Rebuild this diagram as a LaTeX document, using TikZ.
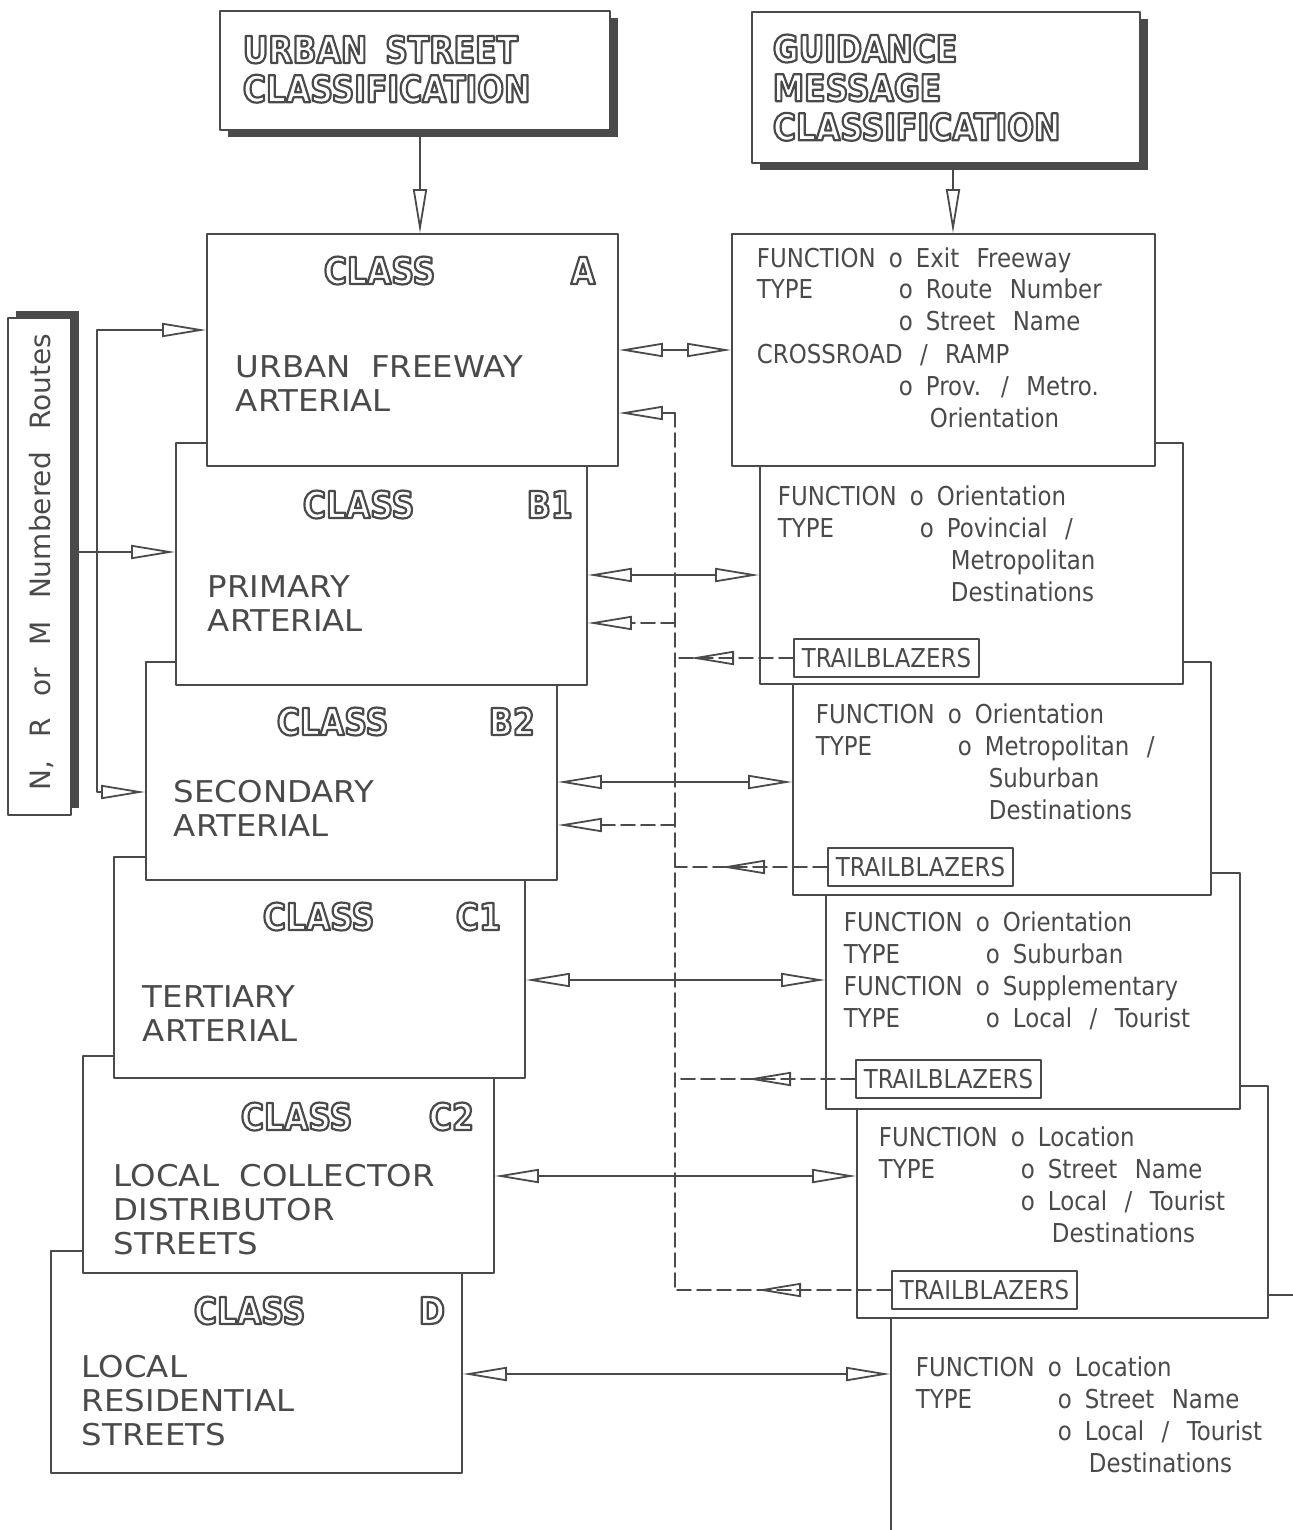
\documentclass[tikz,border=0pt]{standalone}
\usepackage{fontspec}
\usetikzlibrary{arrows.meta,fit,shadows,decorations.markings}
\setmainfont{DejaVu Sans}
\newfontfamily\blockfont{DejaVu Sans}[FakeStretch=0.85]
\newfontfamily\bigfont{DejaVu Sans}[FakeStretch=1.08,WordSpace=2]
\newfontfamily\smallfont{DejaVu Sans}[FakeStretch=0.88,WordSpace=2.4]
\newfontfamily\sidefont{DejaVu Sans}[WordSpace=2.5]
\definecolor{ink}{HTML}{4A4A4A}
\newcommand\blk[1]{\textcolor{white}{\special{pdf:literal direct 2 Tr 1.1 w 0.29 0.29 0.29 RG}#1\special{pdf:literal direct 0 Tr 0.9 w}}}
\newcommand\lines[1]{\begin{tabular}[t]{@{}l@{}}#1\end{tabular}}
\newcommand\fnline[1]{\makebox[66pt][l]{FUNCTION}o\hspace{6.5pt}#1}
\newcommand\tyline[1]{\makebox[71pt][l]{TYPE}o\hspace{6.5pt}#1}
\newcommand\oline[1]{\hspace*{71pt}o\hspace{6.5pt}#1}
\newcommand\goon[1]{\hspace*{86.5pt}#1}
\begin{document}
\begin{tikzpicture}[x=0.5pt,y=-0.5pt,line join=round,line cap=round,ink,line width=0.9pt,
>={Triangle[open,length=22pt,width=7pt]},
box/.style={draw=ink,fill=white,inner sep=0pt},
boxshadow/.style={drop shadow={shadow xshift=4pt,shadow yshift=#1,fill=ink,opacity=1}},
cls/.style={anchor=base west,inner sep=0pt,font=\blockfont\bfseries\fontsize{18.5}{19.5}\selectfont},
big/.style={anchor=base west,inner sep=0pt,text=ink,font=\bigfont\fontsize{15}{17}\selectfont},
small/.style={anchor=base west,inner sep=0pt,text=ink,font=\smallfont\fontsize{13}{16}\selectfont},
tb/.style={draw=ink,fill=white,anchor=west,inner xsep=3pt,inner ysep=0pt,minimum height=19pt,minimum width=92.5pt,text=ink,font=\smallfont\fontsize{13}{16}\selectfont},
dline/.style={dash pattern=on 7pt off 3pt},
midtip/.style={postaction=decorate,decoration={markings,mark=at position #1 with {\arrow{>}}}}]
\useasboundingbox (0,0) rectangle (1293,1530);

\node[box,boxshadow=-3.5pt,fit={(220,11) (610,130)}] (US) {};
\node[cls] (USt) at (242,63) {\lines{\blk{URBAN\hspace{9pt}STREET}\\\blk{CLASSIFICATION}}};
\node[box,boxshadow=-3.5pt,fit={(752,12) (1140,163)}] (GM) {};
\node[cls] (GMt) at (772,62) {\lines{\blk{GUIDANCE}\\\blk{MESSAGE}\\\blk{CLASSIFICATION}}};
\node[box,boxshadow=3.5pt,fit={(8,318) (71,815)}] (NR) {};
\node[rotate=90,text=ink,font=\sidefont\fontsize{14}{16}\selectfont] (NRt) at (41,562) {N, R or M Numbered Routes};

\foreach \nm/\xl/\yt/\yb/\cx/\cy/\lx/\tx/\ty/\txt in {
D/51/1251/1473/193/1324/418/81/1377/{LOCAL\\RESIDENTIAL\\STREETS},
C2/83/1056/1273/240/1130/428/113/1186/{LOCAL COLLECTOR\\DISTRIBUTOR\\STREETS},
C1/114/857/1078/262/930/455/142/1007/{TERTIARY\\ARTERIAL},
B2/146/662/880/276/735/488/173/802/{SECONDARY\\ARTERIAL},
B1/176/443/685/302/518/526/207/597/{PRIMARY\\ARTERIAL},
A/207/234/466/323/284/570/235/377/{URBAN FREEWAY\\ARTERIAL}}{
\node[box,fit={(\xl,\yt) (\xl+411,\yb)}] (L\nm) {};
\node[cls] (c\nm) at (\cx,\cy) {\blk{CLASS}};
\node[cls] (l\nm) at (\lx,\cy) {\blk{\nm}};
\node[big] (t\nm) at (\tx,\ty) {\lines{\txt}};
}

\foreach \i/\xl/\yt/\xr/\yb in {6/891/1295/1330/1570,5/857/1086/1268/1318,4/826/873/1240/1109,3/793/662/1211/895,2/760/443/1183/684,1/732/234/1155/466}
\node[box,fit={(\xl,\yt) (\xr,\yb)}] (R\i) {};
\foreach \i/\x/\y in {2/793/658,3/827/867,4/855/1079,5/891/1290}
\node[tb] (T\i) at (\x,\y) {TRAILBLAZERS};

\node[small] (r1) at (756,267) {\lines{\fnline{Exit Freeway}\\\tyline{Route Number}\\\oline{Street Name}\\CROSSROAD / RAMP\\\oline{Prov. / Metro.}\\\goon{Orientation}}};
\node[small] (r2) at (777,505) {\lines{\fnline{Orientation}\\\tyline{Povincial /}\\\goon{Metropolitan}\\\goon{Destinations}}};
\node[small] (r3) at (815,723) {\lines{\fnline{Orientation}\\\tyline{Metropolitan /}\\\goon{Suburban}\\\goon{Destinations}}};
\node[small] (r4) at (843,931) {\lines{\fnline{Orientation}\\\tyline{Suburban}\\\fnline{Supplementary}\\\tyline{Local / Tourist}}};
\node[small] (r5) at (878,1146) {\lines{\fnline{Location}\\\tyline{Street Name}\\\oline{Local / Tourist}\\\goon{Destinations}}};
\node[small] (r6) at (915,1376) {\lines{\fnline{Location}\\\tyline{Street Name}\\\oline{Local / Tourist}\\\goon{Destinations}}};

\draw[->] (US.south -| 420,0) -- (LA.north -| 420,0);
\draw[->] (GM.south -| 953,0) -- (R1.north -| 953,0);
\coordinate (bus) at (97,552);
\draw[->] (NR.east |- bus) -- (LB1.west |- bus);
\draw[->] (bus) |- (LA.west |- 0,330);
\draw[->] (bus) |- (LB2.west |- 0,792);
\foreach \a/\b/\y in {A/1/350,B1/2/575,B2/3/782,C1/4/980,C2/5/1176,D/6/1374}
\draw[<->] (L\a.east |- 0,\y) -- (R\b.west |- 0,\y);

\coordinate (dtop) at (675,413);
\coordinate (dbot) at (675,1290);
\draw[dline] (dtop) -- (dbot);
\draw[dline,->] (dtop) -- (LA.east |- dtop);
\foreach \nm/\y in {B1/623,B2/825}
\draw[dline,->] (dtop |- 0,\y) -- (L\nm.east |- 0,\y);
\foreach \i/\p in {2/51.5pt,3/53pt,4/54pt,5/67pt}
\draw[dline,midtip=\p] (T\i.west) -- (T\i.west -| dtop);
\end{tikzpicture}
\end{document}
